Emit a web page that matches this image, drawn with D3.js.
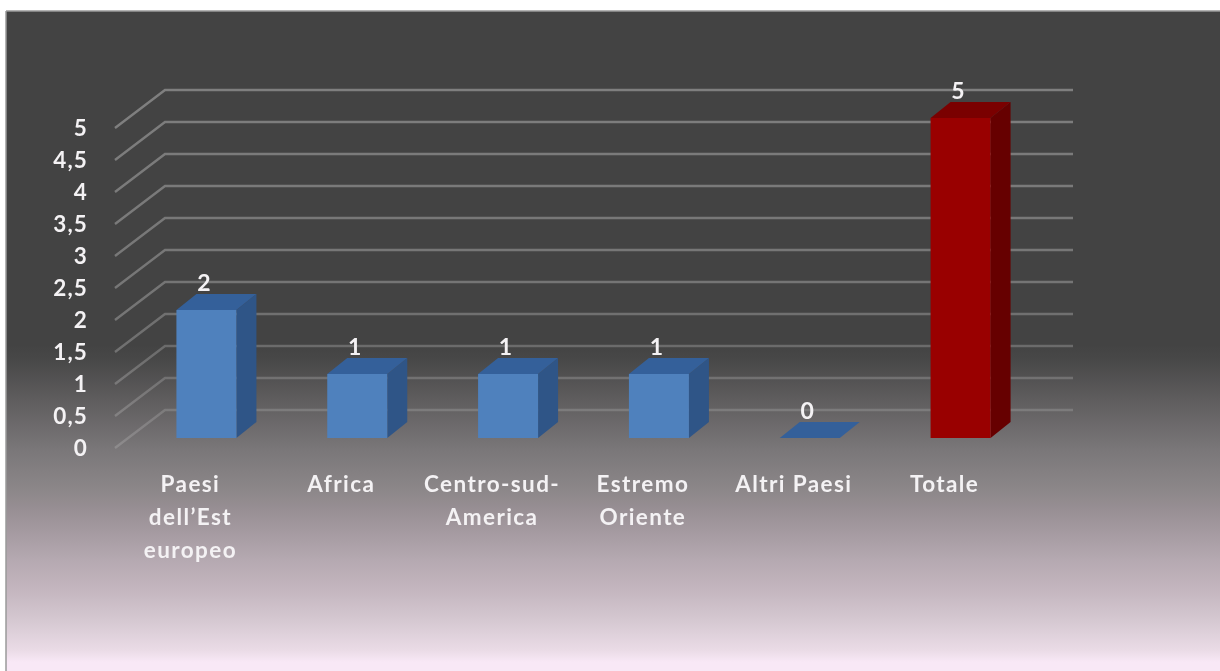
<!DOCTYPE html>
<html><head><meta charset="utf-8">
<script src="https://cdn.jsdelivr.net/npm/d3@7"></script>
<style>
html,body{margin:0;padding:0;background:#fff;overflow:hidden}
svg{display:block}
text{font-family:Lato,"Noto Sans",sans-serif;font-weight:700;fill:#f4f2f4;letter-spacing:1.1px;filter:url(#soft)}
.cat{letter-spacing:1.4px}
</style></head><body>
<svg id="c" width="1220" height="671"></svg>
<script>
const categories = [["Paesi","dell’Est","europeo"],["Africa"],["Centro-sud-","America"],["Estremo","Oriente"],["Altri Paesi"],["Totale"]];
const values = [2,1,1,1,0,5];
const highlighted = [false,false,false,false,false,true];
const yTicks = [0,0.5,1,1.5,2,2.5,3,3.5,4,4.5,5];
const yLabels = ["0","0,5","1","1,5","2","2,5","3","3,5","4","4,5","5"];
const bgStops = [[11,"#434343"],[345,"#434343"],[360,"#484848"],[400,"#5f5d5e"],[450,"#7a7779"],[490,"#8c8789"],[510,"#988f94"],[560,"#b5a9b1"],[590,"#c4b6bf"],[620,"#d5c8d1"],[650,"#eadbe6"],[662,"#f8e8f6"],[671,"#f8e8f6"]];

const svg = d3.select("#c");
const W = 1220, H = 671;
const defs = svg.append("defs");
defs.append("filter").attr("id","soft").append("feGaussianBlur").attr("stdDeviation",0.45);
const g = defs.append("linearGradient").attr("id","bg").attr("gradientUnits","userSpaceOnUse")
  .attr("x1",0).attr("y1",0).attr("x2",0).attr("y2",H);
bgStops.forEach(([p,c])=>g.append("stop").attr("offset",p/H).attr("stop-color",c));

svg.append("rect").attr("width",W).attr("height",H).attr("fill","#fff");
svg.append("rect").attr("x",6).attr("y",11).attr("width",W-6).attr("height",H-11).attr("fill","url(#bg)");
svg.append("line").attr("x1",6).attr("x2",6).attr("y1",11).attr("y2",H).attr("stroke","#9a9a9a").attr("stroke-width",1.5);
svg.append("line").attr("x1",6).attr("x2",W).attr("y1",11).attr("y2",11).attr("stroke","#9a9a9a").attr("stroke-width",1.5);

// Front-plane scales; wall and bars are offset along the oblique depth axis
const x = d3.scaleBand().domain(d3.range(categories.length)).range([118,1023]);
const y = d3.scaleLinear().domain([0,5]).range([448,128]);
const gridOpacity = d3.scaleLinear().domain([0,2,5]).range([0.16,0.27,0.32]);
const gridLeft = 115;
const wall = {dx:50, dy:-38};
const barOffset = {dx:13, dy:-10};
const barDepth = {dx:20, dy:-16};
const barWidth = 60;

// Gridlines
svg.append("g").selectAll("path").data(yTicks).join("path")
  .attr("fill","none").attr("stroke-width",2.4)
  .attr("stroke","#fff").attr("stroke-opacity",d=>gridOpacity(d))
  .attr("d",d=>`M${gridLeft},${y(d)}L${gridLeft+wall.dx},${y(d)+wall.dy}H${x.range()[1]+wall.dx}`);

// Y labels
svg.append("g").selectAll("text").data(yTicks).join("text")
  .attr("x",88).attr("y",d=>y(d)+8).attr("text-anchor","end").attr("font-size",22.5)
  .text((d,i)=>yLabels[i]);

// Bars
const colors = {front:"#4f81bd",top:"#34609a",side:"#2f5587"};
const red = {front:"#990000",top:"#7a0000",side:"#660000"};
const bars = svg.append("g").selectAll("g").data(values).join("g");
bars.each(function(v,i){
  const c = highlighted[i]?red:colors;
  const s = d3.select(this);
  const x0 = x(i)+(x.bandwidth()-barWidth)/2+barOffset.dx, x1 = x0+barWidth;
  const yB = y(0)+barOffset.dy, yT = y(v)+barOffset.dy;
  const dx = barDepth.dx, dy = barDepth.dy;
  if(v>0){
    s.append("path").attr("fill",c.side).attr("d",`M${x1},${yB}L${x1+dx},${yB+dy}V${yT+dy}L${x1},${yT}Z`);
    s.append("rect").attr("x",x0).attr("y",yT).attr("width",barWidth).attr("height",yB-yT).attr("fill",c.front);
  }
  s.append("path").attr("fill",c.top).attr("d",`M${x0},${yT}L${x0+dx},${yT+dy}H${x1+dx}L${x1},${yT}Z`);
  s.append("text").attr("x",x0+barWidth/2-2)
    .attr("y",yT+dy-3).attr("text-anchor","middle").attr("font-size",23).text(v);
});

// Category labels
const lab = svg.append("g").selectAll("text").data(categories).join("text")
  .attr("class","cat").attr("text-anchor","middle").attr("font-size",22.5)
  .attr("transform",(d,i)=>`translate(${x(i)+x.bandwidth()/2-3},492)`);
lab.selectAll("tspan").data(d=>d).join("tspan")
  .attr("x",0).attr("y",(d,i)=>i*33).text(d=>d);
</script>
</body></html>
